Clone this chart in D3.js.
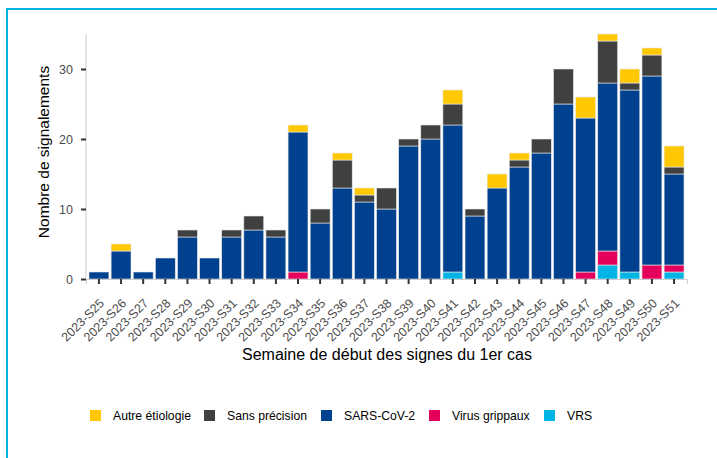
<!DOCTYPE html>
<html>
<head>
<meta charset="utf-8">
<script src="https://cdn.jsdelivr.net/npm/d3@7"></script>
<style>
  body { margin: 0; background: #fff; }
  text { font-family: "Liberation Sans", Arial, sans-serif; }
</style>
</head>
<body>
<script>
var weeks = ['2023-S25','2023-S26','2023-S27','2023-S28','2023-S29','2023-S30','2023-S31','2023-S32','2023-S33',
  '2023-S34','2023-S35','2023-S36','2023-S37','2023-S38','2023-S39','2023-S40','2023-S41','2023-S42','2023-S43',
  '2023-S44','2023-S45','2023-S46','2023-S47','2023-S48','2023-S49','2023-S50','2023-S51']

// stack order bottom -> top
var vrs    = [0,0,0,0,0,0,0,0,0, 0,0,0,0,0,0,0,1,0,0, 0,0,0,0,2,1,0,1]
var grippe = [0,0,0,0,0,0,0,0,0, 1,0,0,0,0,0,0,0,0,0, 0,0,0,1,2,0,2,1]
var sars   = [1,4,1,3,6,3,6,7,6, 20,8,13,11,10,19,20,21,9,13, 16,18,25,22,24,26,27,13]
var sansPrecision = [0,0,0,0,1,0,1,2,1, 0,2,4,1,3,1,2,3,1,0, 1,2,5,0,6,1,3,1]
var autre  = [0,1,0,0,0,0,0,0,0, 1,0,1,1,0,0,0,2,0,2, 1,0,0,3,1,2,1,3]

var yTicks = [0, 10, 20, 30]

var series = [
  { key: 'vrs',    label: 'VRS',             color: '#00b4e6', values: vrs },
  { key: 'grippe', label: 'Virus grippaux',  color: '#e4005b', values: grippe },
  { key: 'sars',   label: 'SARS-CoV-2',      color: '#00418f', values: sars },
  { key: 'sans',   label: 'Sans précision',  color: '#404040', values: sansPrecision },
  { key: 'autre',  label: 'Autre étiologie', color: '#ffc800', values: autre }
]

var width = 717, height = 458
var svg = d3.select('body').append('svg').attr('width', width).attr('height', height)

// cropped frame (only top & left visible)
svg.append('rect').attr('x', 7).attr('y', 9).attr('width', 730).attr('height', 470)
  .attr('fill', 'none').attr('stroke', '#00b4e6').attr('stroke-width', 2)

var rows = weeks.map(function(w, i){
  var r = { week: w }
  series.forEach(function(s){ r[s.key] = s.values[i] })
  return r
})
var stacked = d3.stack().keys(series.map(function(s){ return s.key }))(rows)

var x = d3.scaleBand().domain(weeks).range([86, 687]).paddingInner(0.1).paddingOuter(0.135)
var y = d3.scaleLinear().domain([0, 35]).range([279, 34])

var g = svg.append('g')
g.selectAll('g.layer').data(stacked).enter().append('g')
  .attr('fill', function(d, i){ return series[i].color })
  .selectAll('rect').data(function(d){ return d }).enter().append('rect')
    .filter(function(d){ return d[1] > d[0] })
    .attr('x', function(d){ return x(d.data.week) })
    .attr('width', x.bandwidth())
    .attr('y', function(d){ return y(d[1]) })
    .attr('height', function(d){ return y(d[0]) - y(d[1]) })
    .attr('stroke', '#e8e8e8').attr('stroke-width', 0.6)

// axes
var xAxis = svg.append('g').attr('transform', 'translate(0,279)')
  .call(d3.axisBottom(x).tickSize(5))
xAxis.select('.domain').attr('stroke', '#cccccc')
xAxis.selectAll('.tick line').attr('stroke', '#333').attr('stroke-width', 2)
xAxis.selectAll('.tick text')
  .attr('fill', '#4d4d4d').style('font-size', '12.5px')
  .attr('text-anchor', 'end').attr('x', 0).attr('y', 0).attr('dx', 0).attr('dy', 0)
  .attr('transform', 'translate(6,25) rotate(-45)')

var yAxis = svg.append('g').attr('transform', 'translate(86,0)')
  .call(d3.axisLeft(y).tickValues(yTicks).tickSize(5).tickPadding(8))
yAxis.select('.domain').attr('stroke', '#cccccc').attr('d', 'M0,' + y(35) + 'V' + y(0))
yAxis.selectAll('.tick line').attr('stroke', '#333').attr('stroke-width', 2)
yAxis.selectAll('.tick text').attr('fill', '#4d4d4d').style('font-size', '12.5px')

svg.append('text').attr('x', 387).attr('y', 360).attr('text-anchor', 'middle')
  .style('font-size', '16px').attr('fill', '#000').text('Semaine de début des signes du 1er cas')
svg.append('text').attr('transform', 'translate(49,152) rotate(-90)').attr('text-anchor', 'middle')
  .style('font-size', '15.5px').attr('fill', '#000').text('Nombre de signalements')

// legend
var legendOrder = series.slice().reverse()
var legendX = [90, 204, 321, 429, 544]
var leg = svg.selectAll('g.legend').data(legendOrder).enter().append('g')
  .attr('transform', function(d, i){ return 'translate(' + legendX[i] + ',410)' })
leg.append('rect').attr('width', 11).attr('height', 11).attr('fill', function(d){ return d.color })
leg.append('text').attr('x', 23).attr('y', 10).style('font-size', '12.2px').attr('fill', '#000')
  .text(function(d){ return d.label })
</script>
</body>
</html>
